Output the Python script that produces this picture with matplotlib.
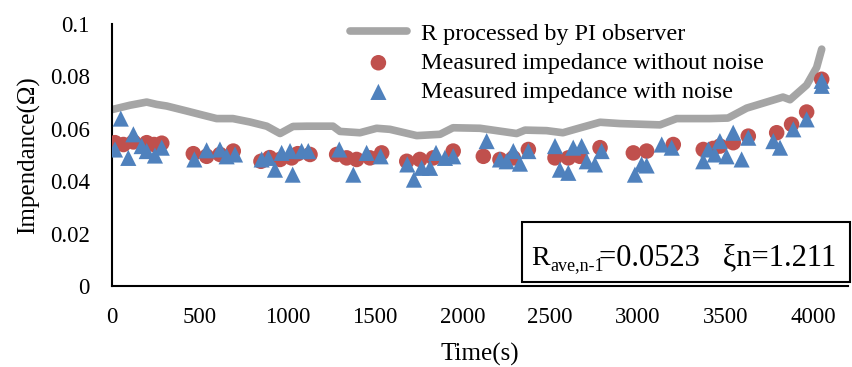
import matplotlib
matplotlib.use("Agg")
import matplotlib.pyplot as plt
from matplotlib.patches import Rectangle

plt.rcParams['font.family'] = ['Liberation Serif', 'DejaVu Serif']

# PI observer processed resistance (line)
line_t = [4, 103, 198, 255, 312, 426, 502, 597, 690, 787, 883, 959, 1033, 1111,
          1261, 1301, 1415, 1510, 1586, 1739, 1872, 1946, 2100, 2309, 2357, 2480,
          2573, 2652, 2785, 2899, 3127, 3222, 3412, 3515, 3622, 3829, 3869, 3964,
          4021, 4050]
line_v = [0.0674, 0.0690, 0.0702, 0.0693, 0.0687, 0.0668, 0.0655, 0.0639, 0.0639,
          0.0626, 0.0610, 0.0582, 0.0609, 0.0610, 0.0610, 0.0590, 0.0585, 0.0602,
          0.0598, 0.0574, 0.0579, 0.0604, 0.0602, 0.0582, 0.0595, 0.0593, 0.0585,
          0.0600, 0.0625, 0.0620, 0.0615, 0.0639, 0.0639, 0.0641, 0.0679, 0.0721,
          0.0711, 0.0767, 0.0834, 0.0904]

# Measured impedance without noise
red_t = [17, 65, 122, 198, 240, 284, 464, 540, 616, 692, 850, 900, 959, 1025, 1060,
         1130, 1282, 1339, 1396, 1472, 1539, 1682, 1757, 1833, 1947, 2119, 2214,
         2290, 2376, 2528, 2604, 2670, 2785, 2975, 3051, 3203, 3374, 3430, 3469,
         3545, 3631, 3793, 3878, 3964, 4050]
red_v = [0.0547, 0.0540, 0.0550, 0.0547, 0.0540, 0.0545, 0.0505, 0.0495, 0.0502,
         0.0515, 0.0476, 0.0490, 0.0483, 0.0489, 0.0505, 0.0502, 0.0502, 0.0489,
         0.0483, 0.0489, 0.0508, 0.0476, 0.0483, 0.0489, 0.0515, 0.0495, 0.0483,
         0.0489, 0.0521, 0.0489, 0.0489, 0.0495, 0.0528, 0.0508, 0.0515, 0.0540,
         0.0521, 0.0525, 0.0534, 0.0547, 0.0572, 0.0585, 0.0617, 0.0664, 0.0789]

# Measured impedance with noise
blue_t = [17, 50, 93, 122, 169, 198, 245, 284, 470, 540, 616, 654, 702, 854, 892,
          930, 968, 1016, 1031, 1082, 1120, 1297, 1377, 1453, 1533, 1685, 1723,
          1767, 1815, 1849, 1900, 1947, 2138, 2214, 2252, 2290, 2328, 2376, 2528,
          2556, 2604, 2632, 2680, 2709, 2756, 2794, 2984, 3022, 3051, 3137, 3194,
          3374, 3403, 3440, 3469, 3507, 3545, 3593, 3631, 3774, 3812, 3888, 3964,
          4050, 4050]
blue_v = [0.0521, 0.0639, 0.0489, 0.0579, 0.0534, 0.0515, 0.0498, 0.0528, 0.0483,
          0.0518, 0.0521, 0.0495, 0.0502, 0.0483, 0.0489, 0.0444, 0.0508, 0.0515,
          0.0425, 0.0515, 0.0515, 0.0521, 0.0425, 0.0508, 0.0495, 0.0464, 0.0406,
          0.0451, 0.0451, 0.0508, 0.0489, 0.0495, 0.0553, 0.0483, 0.0476, 0.0515,
          0.0467, 0.0515, 0.0534, 0.0444, 0.0432, 0.0528, 0.0534, 0.0476, 0.0464,
          0.0515, 0.0425, 0.0464, 0.0460, 0.0540, 0.0528, 0.0476, 0.0521, 0.0502,
          0.0553, 0.0495, 0.0585, 0.0483, 0.0566, 0.0553, 0.0528, 0.0598, 0.0636,
          0.0783, 0.0764]

x_ticks = [0, 500, 1000, 1500, 2000, 2500, 3000, 3500, 4000]
y_ticks = [0, 0.02, 0.04, 0.06, 0.08, 0.1]
y_tick_labels = ['0', '0.02', '0.04', '0.06', '0.08', '0.1']

W, H = 852, 367
fig = plt.figure(figsize=(W / 100, H / 100), dpi=100)
ax = fig.add_axes([112 / W, 1 - 286 / H, (848 - 112) / W, (286 - 24) / H])

ax.plot(line_t, line_v, color='#A5A5A5', lw=5.5, solid_capstyle='round',
        label='R processed by PI observer', zorder=2)
ax.scatter(red_t, red_v, s=125, marker='o', color='#C0504D', edgecolors='none',
           label='Measured impedance without noise', zorder=3)
ax.scatter(blue_t, blue_v, s=135, marker='^', color='#4F81BD', edgecolors='none',
           label='Measured impedance with noise', zorder=4)

ax.set_xlim(0, 4200)
ax.set_ylim(0, 0.1)
ax.set_xticks(x_ticks)
ax.set_yticks(y_ticks)
ax.set_yticklabels(y_tick_labels)
ax.tick_params(length=0, labelsize=16.5)
ax.tick_params(axis='y', pad=16)
ax.tick_params(axis='x', pad=15)
for s in ['top', 'right']:
    ax.spines[s].set_visible(False)
for s in ['left', 'bottom']:
    ax.spines[s].set_linewidth(1.5)
    ax.spines[s].set_color('black')

ax.set_xlabel('Time(s)', fontsize=18, labelpad=11)
ax.set_ylabel('Impendance(Ω)', fontsize=18, labelpad=7)

leg = ax.legend(loc='upper left', bbox_to_anchor=(350 / W, 1 - 23 / H),
                bbox_transform=fig.transFigure, frameon=False, fontsize=17.4,
                handlelength=2.35, handletextpad=0.6, labelspacing=0.3,
                borderpad=0, borderaxespad=0)

# annotation box
fig.patches.append(Rectangle((522 / W, 1 - 282 / H), (850 - 522) / W, 60 / H,
                             transform=fig.transFigure, fill=False,
                             edgecolor='black', lw=1.5))
fig.text(531 / W, 1 - 265 / H, 'R', fontsize=20, ha='left', va='baseline')
fig.text(550 / W, 1 - 270 / H, 'ave,n-1', fontsize=13, ha='left', va='baseline')
fig.text(599 / W, 1 - 265 / H, '=0.0523   ξn=1.211', fontsize=22, ha='left',
         va='baseline')

fig.savefig('out.png', dpi=100)
